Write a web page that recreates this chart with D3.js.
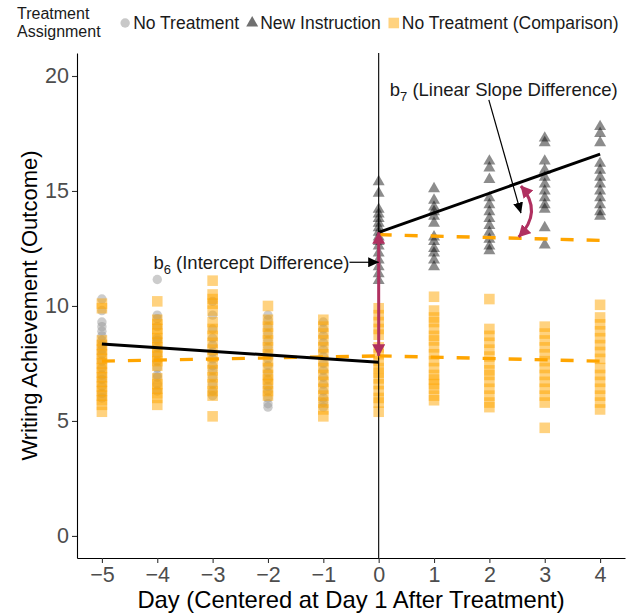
<!DOCTYPE html>
<html>
<head>
<meta charset="utf-8">
<script src="https://cdn.jsdelivr.net/npm/d3@7"></script>
<style>
  body { margin: 0; background: #fff; }
  svg { display: block; font-family: "Liberation Sans", Arial, sans-serif; }
</style>
</head>
<body>
<div id="chart"></div>
<script>
// ---- data ----
const xTicks = [-5, -4, -3, -2, -1, 0, 1, 2, 3, 4];
const yTicks = [0, 5, 10, 15, 20];
const preDays = [-5, -4, -3, -2, -1];
const postDays = [0, 1, 2, 3, 4];
const allDays = [-5, -4, -3, -2, -1, 0, 1, 2, 3, 4];

// gray circles: treatment group before treatment
const noTreatmentScores = [
  [10.3, 9.8, 9.3, 9.1, 8.9, 8.7, 8.5, 8.3, 8.1, 7.9, 7.6, 7.3, 7.0, 6.8, 6.5, 6.2, 6.0],
  [11.15, 9.6, 9.45, 9.1, 8.6, 8.5, 8.2, 7.9, 7.6, 7.3, 7.0, 6.9, 6.6, 6.3],
  [10.2, 9.6, 9.0, 8.6, 8.3, 8.0, 7.7, 7.4, 7.2, 6.9, 6.6, 6.3, 6.1],
  [9.6, 9.4, 9.1, 8.8, 8.5, 8.2, 7.9, 7.7, 7.4, 7.1, 6.8, 6.5, 6.3, 6.0, 5.75, 5.6],
  [9.3, 9.0, 8.7, 8.4, 8.1, 7.8, 7.5, 7.2, 6.9, 6.6, 6.3, 6.0, 5.8, 5.6]
];
// dark triangles: treatment group after treatment
const newInstructionScores = [
  [15.4, 14.9, 14.2, 14.0, 13.8, 13.6, 13.4, 13.2, 13.0, 12.8, 12.6, 12.3, 12.0, 11.7, 11.4, 11.1],
  [15.1, 14.6, 14.3, 14.1, 13.9, 13.6, 13.0, 12.8, 12.5, 12.3, 12.0, 11.7],
  [16.3, 16.0, 15.5, 14.7, 14.4, 14.1, 13.8, 13.5, 13.2, 12.9, 12.6, 12.4],
  [17.3, 17.1, 16.3, 15.9, 15.6, 15.3, 15.0, 14.7, 14.4, 14.2, 13.4, 12.65],
  [17.8, 17.5, 17.1, 16.2, 15.9, 15.6, 15.3, 15.0, 14.7, 14.4, 14.1, 13.9]
];
// orange squares: comparison group, all days
const comparisonScores = [
  [10.1, 9.9, 8.5, 8.3, 8.1, 7.9, 7.7, 7.5, 7.3, 7.1, 6.9, 6.7, 6.5, 6.3, 6.1, 5.9, 5.7, 5.4],
  [10.2, 9.4, 9.2, 9.0, 8.8, 8.6, 8.4, 8.2, 8.0, 7.8, 7.6, 7.4, 6.85, 6.6, 6.4, 6.2, 6.0, 5.7],
  [11.1, 10.5, 10.3, 10.1, 9.8, 9.3, 9.0, 8.7, 8.4, 8.1, 7.8, 7.5, 7.2, 6.9, 6.6, 6.3, 6.1, 5.2],
  [10.0, 9.4, 9.1, 8.8, 8.5, 8.2, 7.9, 7.6, 7.3, 7.0, 6.8, 6.6, 6.3, 6.1],
  [9.4, 9.1, 8.8, 8.5, 8.2, 7.9, 7.6, 7.3, 7.0, 6.7, 6.4, 6.1, 5.8, 5.5, 5.2],
  [9.9, 9.6, 9.3, 9.0, 8.75, 8.2, 7.9, 7.6, 7.3, 7.1, 6.85, 6.6, 6.3, 6.0, 5.8, 5.4],
  [10.4, 9.8, 9.5, 9.3, 9.0, 8.7, 8.5, 8.2, 7.9, 7.6, 7.3, 7.0, 6.8, 6.6, 6.4, 6.1, 5.9],
  [10.3, 9.0, 8.7, 8.4, 8.1, 7.8, 7.5, 7.2, 7.0, 6.7, 6.4, 6.1, 5.8, 5.6],
  [9.1, 8.8, 8.5, 8.2, 7.9, 7.6, 7.3, 7.0, 6.7, 6.4, 6.1, 5.8, 4.7],
  [10.05, 9.5, 9.2, 8.9, 8.6, 8.3, 8.0, 7.7, 7.3, 7.0, 6.7, 6.4, 6.1, 5.8, 5.5]
];

// fitted lines (day, value)
const preFitDays = [-5, 0], preFitValues = [8.35, 7.55];
const postFitDays = [0, 4], postFitValues = [13.2, 16.6];
const compPreDays = [-5, 0], compPreValues = [7.6, 7.83];
const compPostDays = [0, 4], compPostValues = [7.83, 7.6];
const counterDays = [0, 4], counterValues = [13.1, 12.85];

// annotations
const interceptArrow = [[0, 13.2], [0, 7.83]];        // b6 double arrow
const slopeArrowEnds = [[2.57, 15.22], [2.53, 13.0]];  // b7 curved arrow
const slopeCurveBend = 0.42;                           // control point shift (days)
const b6Label = { day: -4.07, value: 11.9, arrowEnd: 0 };
const b7Label = { day: 0.2, value: 19.2, from: [1.99, 18.96], to: [2.57, 14.04] };

const legendLabels = ["No Treatment", "New Instruction", "No Treatment (Comparison)"];

// ---- chart ----
const width = 635, height = 615;
const panel = { left: 77, right: 625, top: 53, bottom: 558 };

const x = d3.scaleLinear().domain([-5.45, 4.45]).range([panel.left, panel.right]);
const y = d3.scaleLinear().domain([-0.96, 21]).range([panel.bottom, panel.top]);

const svg = d3.select("#chart").append("svg")
  .attr("width", width).attr("height", height);

const defs = svg.append("defs");
function addHead(id, color, len, wid) {
  defs.append("marker")
    .attr("id", id)
    .attr("markerUnits", "userSpaceOnUse")
    .attr("viewBox", `0 0 ${len} ${wid}`)
    .attr("refX", len - 0.5).attr("refY", wid / 2)
    .attr("markerWidth", len).attr("markerHeight", wid)
    .attr("orient", "auto-start-reverse")
    .append("path")
    .attr("d", `M0,0L${len},${wid / 2}L0,${wid}Z`)
    .attr("fill", color);
}
addHead("head-black", "#000", 11, 10);
addHead("head-maroon", "#B03060", 12, 13);

function flatten(days, scores) {
  const out = [];
  days.forEach((d, i) => scores[i].forEach(v => out.push({ day: d, value: v })));
  return out;
}

// points
svg.append("g").selectAll("circle")
  .data(flatten(preDays, noTreatmentScores))
  .join("circle")
  .attr("cx", d => x(d.day)).attr("cy", d => y(d.value))
  .attr("r", 4.7)
  .attr("fill", "#9a9a9a").attr("fill-opacity", 0.5);

const tri = d3.symbol().type(d3.symbolTriangle).size(62);
svg.append("g").selectAll("path")
  .data(flatten(postDays, newInstructionScores))
  .join("path")
  .attr("d", tri)
  .attr("transform", d => `translate(${x(d.day)},${y(d.value)})`)
  .attr("fill", "#000").attr("fill-opacity", 0.45);

const sq = d3.symbol().type(d3.symbolSquare).size(112);
svg.append("g").selectAll("path")
  .data(flatten(allDays, comparisonScores))
  .join("path")
  .attr("d", sq)
  .attr("transform", d => `translate(${x(d.day)},${y(d.value)})`)
  .attr("fill", "#FFA500").attr("fill-opacity", 0.5);

// vertical line at day 0
svg.append("line")
  .attr("x1", x(0)).attr("x2", x(0))
  .attr("y1", panel.top).attr("y2", panel.bottom)
  .attr("stroke", "#000").attr("stroke-width", 1.1);

// fitted lines
const line = d3.line().x(d => x(d[0])).y(d => y(d[1]));
function drawFit(days, values, color, dashed) {
  svg.append("path")
    .datum(days.map((d, i) => [d, values[i]]))
    .attr("d", line)
    .attr("fill", "none")
    .attr("stroke", color)
    .attr("stroke-width", dashed ? 3.4 : 3)
    .attr("stroke-dasharray", dashed ? "13,13" : null);
}
drawFit(compPreDays, compPreValues, "#FFA500", true);
drawFit(compPostDays, compPostValues, "#FFA500", true);
drawFit(counterDays, counterValues, "#FFA500", true);
drawFit(preFitDays, preFitValues, "#000", false);
drawFit(postFitDays, postFitValues, "#000", false);

// b6 double arrow
svg.append("path")
  .datum(interceptArrow)
  .attr("d", line)
  .attr("stroke", "#B03060").attr("stroke-width", 3).attr("fill", "none")
  .attr("marker-start", "url(#head-maroon)")
  .attr("marker-end", "url(#head-maroon)");

// b7 curved double arrow
const [p0, p2] = slopeArrowEnds;
const ctrl = [(p0[0] + p2[0]) / 2 + slopeCurveBend, (p0[1] + p2[1]) / 2];
const cp = d3.path();
cp.moveTo(x(p0[0]), y(p0[1]));
cp.quadraticCurveTo(x(ctrl[0]), y(ctrl[1]), x(p2[0]), y(p2[1]));
svg.append("path")
  .attr("d", cp.toString())
  .attr("stroke", "#B03060").attr("stroke-width", 3).attr("fill", "none")
  .attr("marker-start", "url(#head-maroon)")
  .attr("marker-end", "url(#head-maroon)");

// labels with subscripts
function subLabel(px, py, sub, rest) {
  const t = svg.append("text")
    .attr("x", px).attr("y", py)
    .attr("font-size", 18.5).attr("fill", "#1a1a1a");
  t.append("tspan").text("b");
  t.append("tspan").attr("font-size", 13).attr("dy", 5).text(sub);
  t.append("tspan").attr("dy", -5).text(" " + rest);
  return t;
}
const b6 = subLabel(x(b6Label.day), y(b6Label.value) + 6.5, "6", "(Intercept Difference)");
const b6End = x(b6Label.day) + b6.node().getComputedTextLength();
svg.append("line")
  .attr("x1", b6End).attr("x2", x(b6Label.arrowEnd))
  .attr("y1", y(b6Label.value)).attr("y2", y(b6Label.value))
  .attr("stroke", "#000").attr("stroke-width", 1.2)
  .attr("marker-end", "url(#head-black)");

subLabel(x(b7Label.day), y(b7Label.value) + 6.5 - 5, "7", "(Linear Slope Difference)");
svg.append("line")
  .attr("x1", x(b7Label.from[0])).attr("y1", y(b7Label.from[1]))
  .attr("x2", x(b7Label.to[0])).attr("y2", y(b7Label.to[1]))
  .attr("stroke", "#000").attr("stroke-width", 1.2)
  .attr("marker-end", "url(#head-black)");

// axes
const yAxis = svg.append("g")
  .attr("transform", `translate(${panel.left},0)`)
  .call(d3.axisLeft(y).tickValues(yTicks).tickSize(5).tickSizeOuter(0).tickPadding(3));
const xAxis = svg.append("g")
  .attr("transform", `translate(0,${panel.bottom})`)
  .call(d3.axisBottom(x).tickValues(xTicks).tickSize(5).tickSizeOuter(0).tickPadding(4)
    .tickFormat(d => d < 0 ? "\u2212" + Math.abs(d) : d));
[xAxis, yAxis].forEach(a => {
  a.select(".domain").attr("stroke", "#000").attr("stroke-width", 1.1);
  a.selectAll(".tick line").attr("stroke", "#333").attr("stroke-width", 1.1);
  a.selectAll(".tick text").attr("fill", "#4d4d4d").attr("font-size", 21.5)
    .attr("font-family", "Liberation Sans, Arial, sans-serif");
});

svg.append("text")
  .attr("x", (panel.left + panel.right) / 2).attr("y", 608)
  .attr("text-anchor", "middle").attr("font-size", 23.8)
  .text("Day (Centered at Day 1 After Treatment)");
svg.append("text")
  .attr("transform", `translate(37,${(panel.top + panel.bottom) / 2}) rotate(-90)`)
  .attr("text-anchor", "middle").attr("font-size", 22)
  .text("Writing Achievement (Outcome)");

// legend
const lg = svg.append("g");
const title = lg.append("text").attr("font-size", 16).attr("fill", "#1a1a1a");
title.append("tspan").attr("x", 17).attr("y", 19).text("Treatment");
title.append("tspan").attr("x", 17).attr("y", 37).text("Assignment");
let cursor = 17 + title.node().getBBox().width + 19;
const ly = 23;
const legendShapes = [
  g => g.append("circle").attr("r", 4.7).attr("fill", "#c8c8c8"),
  g => g.append("path").attr("d", d3.symbol().type(d3.symbolTriangle).size(62)()).attr("fill", "#707070"),
  g => g.append("path").attr("d", d3.symbol().type(d3.symbolSquare).size(112)()).attr("fill", "#FFD27F")
];
legendLabels.forEach((lab, i) => {
  const g = lg.append("g").attr("transform", `translate(${cursor + 5},${ly})`);
  legendShapes[i](g);
  const t = lg.append("text").attr("x", cursor + 13).attr("y", ly + 6)
    .attr("font-size", 17.5).attr("fill", "#1a1a1a").text(lab);
  cursor += 13 + t.node().getComputedTextLength() + 8;
});
</script>
</body>
</html>
